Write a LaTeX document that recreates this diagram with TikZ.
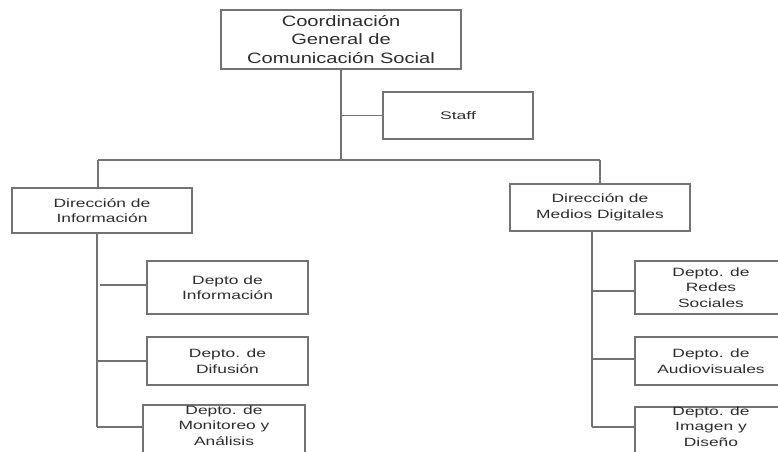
\documentclass[tikz,border=0pt]{standalone}
\usepackage{fontspec}
\newfontfamily\topfont[FakeStretch=1.34]{Liberation Sans}
\newfontfamily\boxfont[FakeStretch=1.45]{Liberation Sans}
\newfontfamily\stafffont[FakeStretch=1.6]{Liberation Sans}
\definecolor{lineg}{RGB}{115,115,115}
\definecolor{textg}{RGB}{45,45,45}
\tikzset{
  orgbox/.style={draw=lineg, line width=1.3pt, rectangle, inner sep=0pt, align=center, text=textg,
    font=\boxfont\fontsize{12}{15.5}\selectfont},
  orgtext/.style={inner sep=0pt, align=center, text=textg, font=\boxfont\fontsize{12}{15.5}\selectfont},
  link/.style={draw=lineg, line width=1.3pt}
}
\begin{document}
\begin{tikzpicture}[x=1pt,y=-1pt]
\clip (0,0) rectangle (778,451);
\fill[white] (0,0) rectangle (778,451);
% boxes
\node[orgbox, minimum width=240pt, minimum height=59pt, font=\topfont\fontsize{15}{18.5}\selectfont] (top) at (341,39.5) {Coordinación\\General de\\Comunicación Social};
\node[orgbox, minimum width=150pt, minimum height=47pt, font=\stafffont\fontsize{11}{13}\selectfont] (staff) at (458,115.5) {Staff};
\node[orgbox, minimum width=180pt, minimum height=45pt] (dinf) at (102,210.5) {Dirección de\\Información};
\node[orgbox, minimum width=180pt, minimum height=47pt] (dmed) at (600,207.5) {Dirección de\\Medios Digitales};
\node[orgbox, minimum width=161pt, minimum height=53pt] (l1) at (227.5,287.5) {Depto de\\Información};
\node[orgbox, minimum width=161pt, minimum height=48pt] (l2) at (227.5,361) {Depto. de\\Difusión};
\node[orgbox, minimum width=162pt, minimum height=52pt] (l3) at (224,431) {};
\node[orgtext] (l3t) at (224,425.5) {Depto. de\\Monitoreo y\\Análisis};
\node[orgbox, minimum width=152pt, minimum height=53pt] (r1) at (711,287.5) {Depto. de\\Redes\\Sociales};
\node[orgbox, minimum width=152pt, minimum height=48pt] (r2) at (711,361) {Depto. de\\Audiovisuales};
\node[orgbox, minimum width=152pt, minimum height=52pt] (r3) at (711,433) {};
\node[orgtext] (r3t) at (711,426.5) {Depto. de\\Imagen y\\Diseño};
% junctions
\coordinate (hl) at (98,160);
\coordinate (hr) at (600,160);
\coordinate (hc) at (341,160);
\coordinate (tl1) at (100,285);
\coordinate (tl2) at (97,361);
\coordinate (tl3) at (97,427);
\coordinate (tr1) at (592,291);
\coordinate (tr2) at (592,359);
\coordinate (tr3) at (592,427);
% connectors
\draw[link] (top.south) -- (hc);
\draw[link] (top.south |- staff.west) -- (staff.west);
\draw[link] (hl) -- (hr);
\draw[link] (hl) -- (hl |- dinf.north);
\draw[link] (hr) -- (dmed.north);
\draw[link] (dinf.south -| tl3) -- (tl3);
\draw[link] (tl1) -- (tl1 -| l1.west);
\draw[link] (tl2) -- (tl2 -| l2.west);
\draw[link] (tl3) -- (tl3 -| l3.west);
\draw[link] (dmed.south -| tr3) -- (tr3);
\draw[link] (tr1) -- (tr1 -| r1.west);
\draw[link] (tr2) -- (tr2 -| r2.west);
\draw[link] (tr3) -- (tr3 -| r3.west);
\end{tikzpicture}
\end{document}
